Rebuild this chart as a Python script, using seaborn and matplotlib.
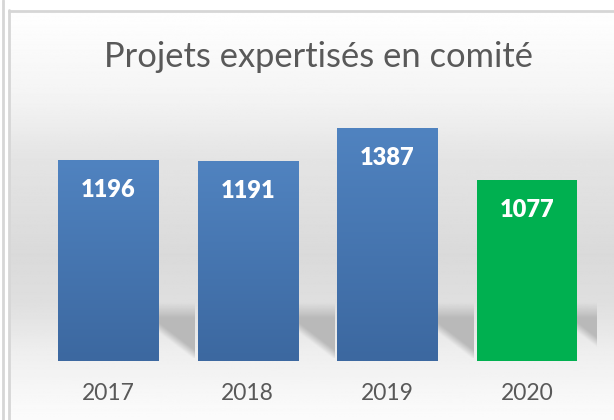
import numpy as np
import pandas as pd
import matplotlib
matplotlib.use("Agg")
import matplotlib.pyplot as plt
import matplotlib.colors as mcolors
import seaborn as sns

years = ["2017", "2018", "2019", "2020"]
projets = [1196, 1191, 1387, 1077]
bar_colors = ["#4A7AB7", "#4A7AB7", "#4A7AB7", "#00B050"]
title = "Projets expertisés en comité"

sns.set_style("white")
plt.rcParams["font.family"] = ["Lato", "DejaVu Sans"]

df = pd.DataFrame({"annee": years, "projets": projets})

fig = plt.figure(figsize=(6.14, 4.2), dpi=100)

# background panel with vertical gradient + border lines
bg = fig.add_axes([0, 0, 1, 1], zorder=0)
bg.set_xlim(0, 614)
bg.set_ylim(420, 0)
bg.axis("off")
stops = [(0, 0.995), (10, 0.995), (90, 0.955), (150, 0.895), (250, 0.855),
         (300, 0.875), (350, 0.935), (400, 0.975), (420, 0.985)]
ys = np.arange(420)
grey = np.interp(ys, [s[0] for s in stops], [s[1] for s in stops])
grad = np.repeat(grey[:, None], 2, axis=1)
bg.imshow(grad, cmap="gray", vmin=0, vmax=1, extent=[9, 614, 420, 10], aspect="auto")
bg.fill_between([0, 9], 0, 420, color="white", zorder=0)
bg.fill_between([0, 614], 0, 10, color="white", zorder=0)
bg.plot([2.5, 2.5], [0, 420], color="#d6d6d6", lw=2)
bg.plot([9, 9], [10, 420], color="#d6d6d6", lw=2)
bg.plot([9, 614], [10.5, 10.5], color="#d6d6d6", lw=2)
bg.text(318, 67, title, ha="center", va="baseline", fontsize=24.8, color="#595959")

ax = fig.add_axes([38 / 614, 59 / 420, 559 / 614, 269 / 420], zorder=1)
ax.patch.set_alpha(0)
sns.barplot(data=df, x="annee", y="projets", hue="annee", palette=bar_colors,
            width=0.716, legend=False, saturation=1, linewidth=0, edgecolor="none", ax=ax)
ax.set_ylim(0, 1600)
ax.set_xlim(-0.5, len(years) - 0.5)

# soft shadow cast to the right of each bar
n_u, n_v = 40, 60
u = np.linspace(0, 1, n_u)[None, :]
v = np.linspace(0, 1, n_v)[:, None]
alpha = np.clip(v / 0.28, 0, 1) * np.clip((u - (v - 0.45) * 2.0) / 0.35 + 0.5, 0, 1)
shadow = np.zeros((n_v, n_u, 4))
shadow[..., :3] = 0.72
shadow[..., 3] = alpha * 0.95

blue = mcolors.LinearSegmentedColormap.from_list("bl", ["#5083C0", "#3C68A0"])
for i, p in enumerate(ax.patches):
    x0, w, h = p.get_x(), p.get_width(), p.get_height()
    ax.imshow(shadow, extent=[x0 + w, x0 + w + 0.26, 15, 345],
              aspect="auto", zorder=1, interpolation="bilinear")
    if i < 3:
        g = np.linspace(0, 1, 100)[:, None]
        im = ax.imshow(g, cmap=blue, extent=[x0, x0 + w, 0, h], aspect="auto", zorder=3)
        im.set_clip_path(p)
    p.set_zorder(2)
    ax.text(x0 + w / 2, h - 180, f"{projets[i]}", ha="center", va="center",
            color="white", fontsize=17, fontweight="heavy", zorder=4)

ax.set_xlabel("")
ax.set_ylabel("")
ax.set_yticks([])
ax.tick_params(axis="x", length=0, labelsize=16.5, labelcolor="#595959", pad=16)
sns.despine(ax=ax, left=True, bottom=True)

fig.savefig("out.png", dpi=100)
